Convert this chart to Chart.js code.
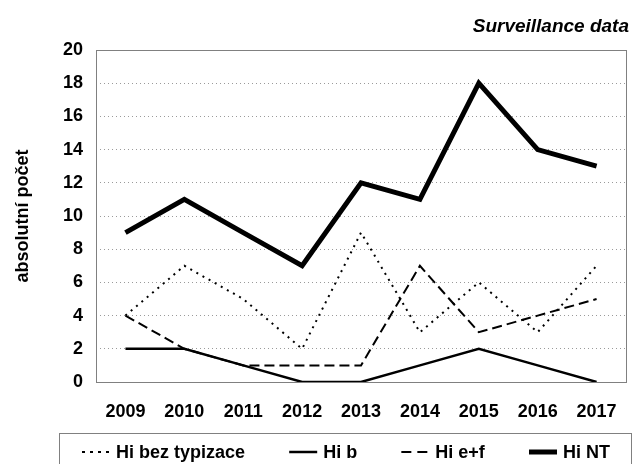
<!DOCTYPE html>
<html>
<head>
<meta charset="utf-8">
<script src="https://cdn.jsdelivr.net/npm/chart.js@4/dist/chart.umd.min.js"></script>
<style>
  html, body { margin: 0; padding: 0; background: #fff; }
  #wrap { position: relative; width: 636px; height: 464px; }
  canvas { display: block; }
</style>
</head>
<body>
<div id="wrap"><canvas id="c" width="636" height="464"></canvas></div>
<script>
// Haemophilus influenzae cases per year, by type
const years = ['2009', '2010', '2011', '2012', '2013', '2014', '2015', '2016', '2017'];
const hiBezTypizace = [4, 7, 5, 2, 9, 3, 6, 3, 7];
const hiB = [2, 2, 1, 0, 0, 1, 2, 1, 0];
const hiEF = [4, 2, 1, 1, 1, 7, 3, 4, 5];
const hiNT = [9, 11, 9, 7, 12, 11, 18, 14, 13];
const yTicks = [0, 2, 4, 6, 8, 10, 12, 14, 16, 18, 20];

const FONT = "'Liberation Sans', Arial, sans-serif";

// Border around the plot area (drawn under the lines)
const frame = {
  id: 'frame',
  beforeDatasetsDraw(chart) {
    const { ctx, chartArea: a } = chart;
    ctx.save();
    ctx.strokeStyle = '#808080';
    ctx.lineWidth = 1;
    ctx.strokeRect(Math.round(a.left) + 0.5, Math.round(a.top) + 0.5,
                   Math.round(a.right - a.left), Math.round(a.bottom - a.top));
    ctx.restore();
  }
};

// Boxed legend below the axis, plus subtitle at top right
const boxLegend = {
  id: 'boxLegend',
  afterDraw(chart) {
    const { ctx } = chart;
    ctx.save();
    // subtitle
    ctx.font = `italic bold 19px ${FONT}`;
    ctx.fillStyle = '#000';
    ctx.textAlign = 'right';
    ctx.textBaseline = 'middle';
    ctx.fillText('Surveillance data', 629, 27);

    // legend frame
    ctx.strokeStyle = '#808080';
    ctx.lineWidth = 1;
    ctx.strokeRect(59.5, 433.5, 572, 40);

    ctx.font = `bold 18px ${FONT}`;
    ctx.textAlign = 'left';
    const sets = chart.data.datasets;
    const sample = 28, gapText = 6;
    const widths = sets.map(d => sample + gapText + ctx.measureText(d.label).width);
    const startX = 82, endX = 610;
    const gap = (endX - startX - widths.reduce((s, w) => s + w, 0)) / (sets.length - 1);
    const y = 452;
    let x = startX;
    sets.forEach((d, i) => {
      ctx.beginPath();
      ctx.strokeStyle = '#000';
      ctx.lineWidth = d.borderWidth;
      ctx.setLineDash(d.legendDash || []);
      ctx.moveTo(x, y);
      ctx.lineTo(x + sample, y);
      ctx.stroke();
      ctx.setLineDash([]);
      ctx.fillStyle = '#000';
      ctx.fillText(d.label, x + sample + gapText, y + 1);
      x += widths[i] + gap;
    });
    ctx.restore();
  }
};

new Chart(document.getElementById('c'), {
  type: 'line',
  data: {
    labels: years,
    datasets: [
      { label: 'Hi bez typizace', data: hiBezTypizace, borderColor: '#000', borderWidth: 2,
        borderDash: [2, 5], legendDash: [3, 5] },
      { label: 'Hi b', data: hiB, borderColor: '#000', borderWidth: 2.5 },
      { label: 'Hi e+f', data: hiEF, borderColor: '#000', borderWidth: 2,
        borderDash: [10, 5], legendDash: [10, 6] },
      { label: 'Hi NT', data: hiNT, borderColor: '#000', borderWidth: 5 }
    ]
  },
  options: {
    responsive: false,
    animation: false,
    events: [],
    layout: { padding: { top: 50, right: 7, left: 0, bottom: 0 } },
    elements: {
      point: { radius: 0 },
      line: { tension: 0, borderJoinStyle: 'miter', borderCapStyle: 'butt', fill: false }
    },
    plugins: {
      legend: { display: false },
      tooltip: { enabled: false },
      title: { display: false }
    },
    scales: {
      x: {
        offset: true,
        grid: { display: false, drawTicks: false },
        border: { display: false },
        ticks: { color: '#000', font: { family: FONT, size: 18, weight: 'bold' }, padding: 19, maxRotation: 0 },
        afterFit(scale) { scale.height = 82; }
      },
      y: {
        min: 0,
        max: 20,
        afterBuildTicks(scale) { scale.ticks = yTicks.map(v => ({ value: v })); },
        grid: { color: '#9a9a9a', lineWidth: 1, drawTicks: false },
        border: { display: false, dash: [1, 3] },
        ticks: { color: '#000', font: { family: FONT, size: 18, weight: 'bold' }, padding: 13 },
        title: { display: true, text: 'absolutní počet', color: '#000',
                 font: { family: FONT, size: 18, weight: 'bold' }, padding: { top: 12, bottom: 0 } },
        afterFit(scale) { scale.width = 96; }
      }
    }
  },
  plugins: [frame, boxLegend]
});
</script>
</body>
</html>
